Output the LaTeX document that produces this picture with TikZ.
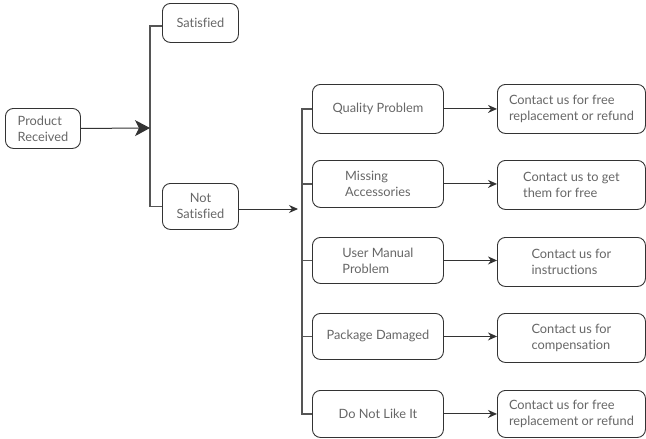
\documentclass[tikz,border=0pt]{standalone}
\usepackage{fontspec}
\setmainfont{Lato}[Ligatures=NoCommon]
\usetikzlibrary{arrows.meta}
\definecolor{txt}{HTML}{666666}
\definecolor{edge}{HTML}{333333}
\definecolor{trunk}{HTML}{555555}
\tikzset{
  box/.style={draw=edge, line width=0.9pt, rounded corners=8pt, text=txt,
    font=\fontsize{12.8}{16}\selectfont, inner sep=0pt, anchor=north west},
  link/.style={draw=trunk, line width=1.1pt},
  arr/.style={draw=edge, line width=1pt, -{Stealth[length=9pt,width=8pt]}},
  bigarr/.style={draw=edge, line width=1pt, -{Stealth[length=15pt,width=16pt,inset=4pt]}}
}
\begin{document}
\begin{tikzpicture}[x=1pt,y=-1pt]
\useasboundingbox (0,0) rectangle (646,439);
% left
\node[box, minimum width=75pt, minimum height=40pt, align=left] (pr) at (5,108) {Product\\Received};
\node[box, minimum width=76pt, minimum height=39pt] (sat) at (162,3) {Satisfied};
\node[box, minimum width=76pt, minimum height=46pt, align=center] (ns) at (162,183) {Not\\Satisfied};
\coordinate (t1) at (150,128);
\coordinate (t2) at (302,209);
% middle
\node[box, minimum width=131pt, minimum height=49pt] (qp) at (312,84) {Quality Problem};
\node[box, minimum width=131pt, minimum height=47pt, align=left] (ma) at (312,160) {Missing\\Accessories};
\node[box, minimum width=131pt, minimum height=46pt, align=left] (um) at (312,237) {User Manual\\Problem};
\node[box, minimum width=131pt, minimum height=46pt] (pd) at (312,313) {Package Damaged};
\node[box, minimum width=131pt, minimum height=47pt] (dn) at (312,390) {Do Not Like It};
% right
\node[box, minimum width=148pt, minimum height=49pt, align=left] (c1) at (497,84) {Contact us for free\\replacement or refund};
\node[box, minimum width=148pt, minimum height=49pt, align=left] (c2) at (497,160) {Contact us to get\\them for free};
\node[box, minimum width=148pt, minimum height=49pt, align=left] (c3) at (497,237) {Contact us for\\instructions};
\node[box, minimum width=148pt, minimum height=49pt, align=left] (c4) at (497,313) {Contact us for\\compensation};
\node[box, minimum width=148pt, minimum height=47pt, align=left] (c5) at (497,390) {Contact us for free\\replacement or refund};
% trunk 1
\draw[link] ([yshift=-3pt]sat.west) -| (t1 |- ns.west) -- (ns.west);
\draw[bigarr] (pr.east) -- (t1);
% trunk 2
\draw[link] (qp.west) -| (t2 |- dn.west) -- (dn.west);
\foreach \n in {ma,um,pd} \draw[link] (t2 |- \n.west) -- (\n.west);
\draw[arr] (ns.east |- t2) -- ([xshift=-4pt]t2);
% right arrows
\draw[arr] (qp.east) -- (qp.east -| c1.west);
\draw[arr] (ma.east) -- (ma.east -| c2.west);
\draw[arr] (um.east) -- (um.east -| c3.west);
\draw[arr] (pd.east) -- (pd.east -| c4.west);
\draw[arr] (dn.east) -- (dn.east -| c5.west);
\end{tikzpicture}
\end{document}
